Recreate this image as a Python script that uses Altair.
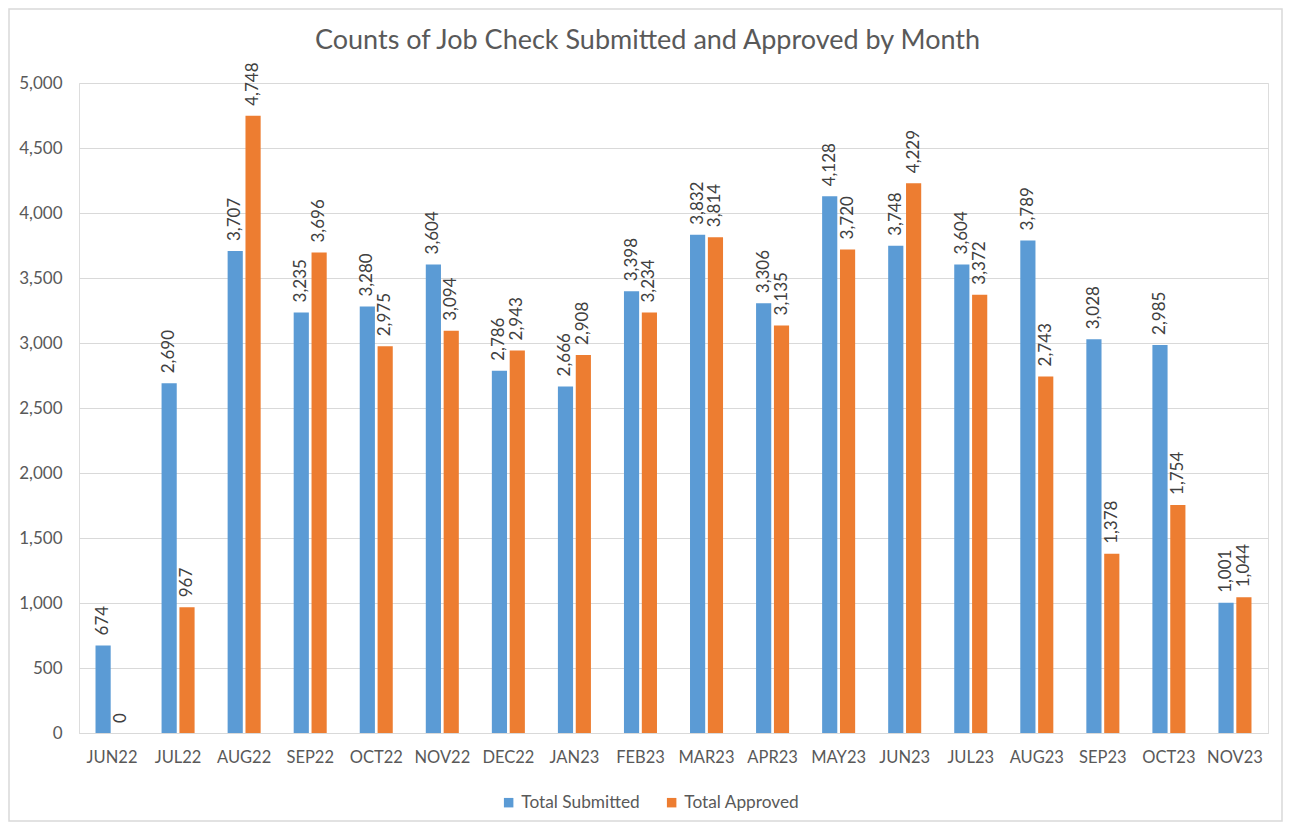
import altair as alt
import pandas as pd

months = ["JUN22", "JUL22", "AUG22", "SEP22", "OCT22", "NOV22", "DEC22", "JAN23", "FEB23",
          "MAR23", "APR23", "MAY23", "JUN23", "JUL23", "AUG23", "SEP23", "OCT23", "NOV23"]
submitted = [674, 2690, 3707, 3235, 3280, 3604, 2786, 2666, 3398,
             3832, 3306, 4128, 3748, 3604, 3789, 3028, 2985, 1001]
approved = [0, 967, 4748, 3696, 2975, 3094, 2943, 2908, 3234,
            3814, 3135, 3720, 4229, 3372, 2743, 1378, 1754, 1044]
series = ["Total Submitted", "Total Approved"]
colors = ["#5b9bd5", "#ed7d31"]
y_ticks = list(range(0, 5001, 500))

rows = []
for i, m in enumerate(months):
    rows.append({"month": m, "series": series[0], "value": submitted[i]})
    rows.append({"month": m, "series": series[1], "value": approved[i]})
df = pd.DataFrame(rows)

FONT = "Lato"
W, H = 1189, 650
PL, PT, PR, PB = 71, 75, 15, 89

base = alt.Chart(df).encode(
    x=alt.X("month:N", sort=months, title=None,
            scale=alt.Scale(paddingInner=0.5, paddingOuter=0.25),
            axis=alt.Axis(labelAngle=0, labelFont=FONT, labelFontSize=16.5, labelColor="#595959",
                          ticks=False, domainColor="#d9d9d9", domainWidth=1.2, labelPadding=16,
                          grid=False)),
    xOffset=alt.XOffset("series:N", sort=series,
                        scale=alt.Scale(paddingInner=0.15, paddingOuter=0)),
)

bars = base.mark_bar().encode(
    y=alt.Y("value:Q", title=None,
            scale=alt.Scale(domain=[0, 5000], nice=False),
            axis=alt.Axis(values=y_ticks, format=",d", labelFont=FONT, labelFontSize=17,
                          labelColor="#595959", ticks=False, domain=False, labelPadding=17,
                          gridColor="#d9d9d9", gridWidth=1)),
    color=alt.Color("series:N", sort=series,
                    scale=alt.Scale(domain=series, range=colors),
                    legend=alt.Legend(title=None, orient="none", direction="horizontal",
                                      legendX=421, legendY=711, symbolType="square",
                                      symbolSize=90, labelFont=FONT, labelFontSize=17.3,
                                      labelColor="#595959", columnPadding=23,
                                      symbolStrokeWidth=0)),
)

labels = base.mark_text(angle=270, align="left", baseline="middle", dx=10,
                        font=FONT, fontSize=17, color="#404040").encode(
    y=alt.Y("value:Q"),
    text=alt.Text("value:Q", format=",d"),
)

frame = alt.Chart(pd.DataFrame({"a": [0]})).mark_rect(
    fill=None, stroke="#d9d9d9", strokeWidth=1.5
).encode(
    x=alt.value(-PL + 1), x2=alt.value(W + PR - 1),
    y=alt.value(-PT + 1), y2=alt.value(H + PB - 1),
)

chart = alt.layer(frame, bars, labels).properties(
    width=W, height=H,
    autosize=alt.AutoSizeParams(type="none"),
    padding={"left": PL, "top": PT, "right": PR, "bottom": PB},
    title=alt.TitleParams("Counts of Job Check Submitted and Approved by Month",
                          font=FONT, fontSize=27, fontWeight="normal", color="#595959",
                          anchor="middle", offset=-47, dx=-26),
).configure_view(stroke=None).configure(background="white")

chart.save("out.html", embed_options={"renderer": "svg", "actions": False})
